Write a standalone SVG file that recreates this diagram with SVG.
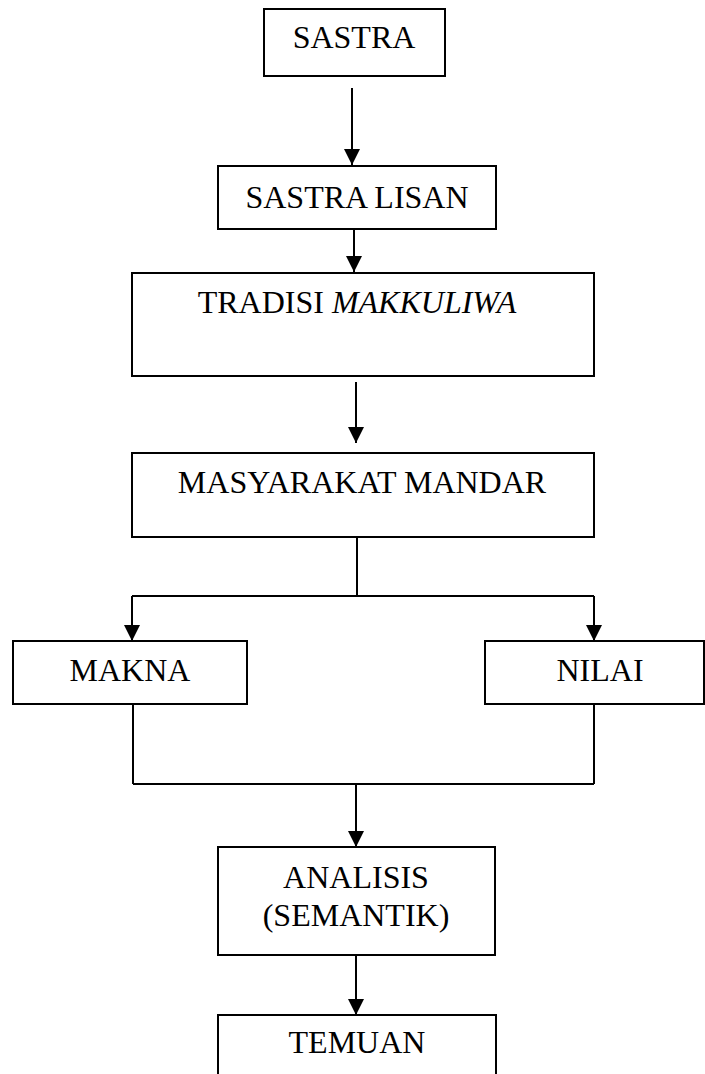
<svg xmlns="http://www.w3.org/2000/svg" width="705" height="1074" viewBox="0 0 705 1074">
<defs>
<style>
.box{fill:#fff;stroke:#000;stroke-width:2}
.t{font-family:"Liberation Serif","Times New Roman",serif;font-size:32px;fill:#000;text-anchor:middle}
.ln{stroke:#000;stroke-width:2;fill:none}
</style>
<marker id="ah" viewBox="0 0 16 16" refX="16" refY="8" markerWidth="16" markerHeight="16" markerUnits="userSpaceOnUse" orient="auto">
<path d="M0,0 L16,8 L0,16 Z" fill="#000"/>
</marker>
</defs>
<rect width="705" height="1074" fill="#fff"/>
<g id="connectors">
<line class="ln" x1="352" y1="88" x2="352" y2="165" marker-end="url(#ah)"/>
<line class="ln" x1="354" y1="229" x2="354" y2="272" marker-end="url(#ah)"/>
<line class="ln" x1="356" y1="382" x2="356" y2="443" marker-end="url(#ah)"/>
<line class="ln" x1="357" y1="537" x2="357" y2="596"/>
<line class="ln" x1="132" y1="596" x2="594" y2="596"/>
<line class="ln" x1="132" y1="596" x2="132" y2="641" marker-end="url(#ah)"/>
<line class="ln" x1="594" y1="596" x2="594" y2="641" marker-end="url(#ah)"/>
<line class="ln" x1="133" y1="704" x2="133" y2="784"/>
<line class="ln" x1="594" y1="704" x2="594" y2="784"/>
<line class="ln" x1="133" y1="784" x2="594" y2="784"/>
<line class="ln" x1="356" y1="784" x2="356" y2="847" marker-end="url(#ah)"/>
<line class="ln" x1="356" y1="955" x2="356" y2="1015" marker-end="url(#ah)"/>
</g>
<g id="sastra"><rect class="box" x="264" y="9" width="181" height="67"/><text class="t" x="354" y="48">SASTRA</text></g>
<g id="sastra-lisan"><rect class="box" x="218" y="166" width="278" height="63"/><text class="t" x="357" y="208">SASTRA LISAN</text></g>
<g id="tradisi"><rect class="box" x="132" y="273" width="462" height="103"/><text class="t" x="357" y="313">TRADISI <tspan font-style="italic">MAKKULIWA</tspan></text></g>
<g id="masyarakat"><rect class="box" x="132" y="453" width="462" height="84"/><text class="t" x="362" y="493">MASYARAKAT MANDAR</text></g>
<g id="makna"><rect class="box" x="13" y="641" width="234" height="63"/><text class="t" x="130" y="681">MAKNA</text></g>
<g id="nilai"><rect class="box" x="485" y="641" width="219" height="63"/><text class="t" x="600" y="681">NILAI</text></g>
<g id="analisis"><rect class="box" x="218" y="847" width="277" height="108"/><text class="t" x="356" y="888">ANALISIS</text><text class="t" x="356" y="926">(SEMANTIK)</text></g>
<g id="temuan"><rect class="box" x="218" y="1015" width="278" height="80"/><text class="t" x="357" y="1053">TEMUAN</text></g>
</svg>
